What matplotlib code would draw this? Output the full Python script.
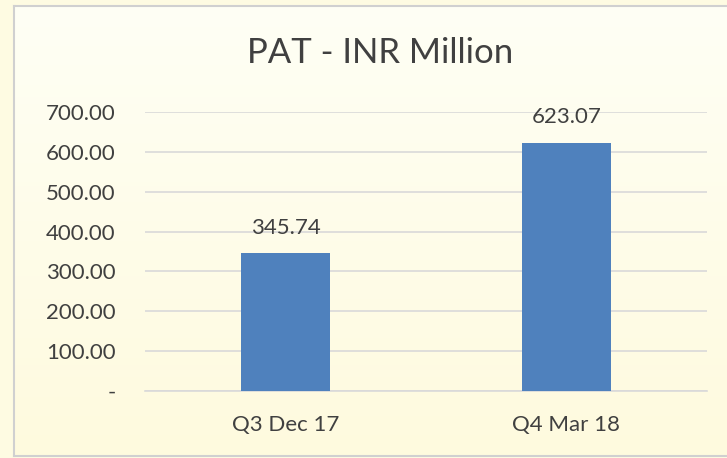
import matplotlib
matplotlib.use("Agg")
import matplotlib.pyplot as plt
import numpy as np

categories = ["Q3 Dec 17", "Q4 Mar 18"]
values = [345.74, 623.07]
yticks = [0, 100, 200, 300, 400, 500, 600, 700]
ytick_labels = ["-", "100.00", "200.00", "300.00", "400.00", "500.00", "600.00", "700.00"]
title = "PAT - INR Million"

W, H = 727, 458
fig = plt.figure(figsize=(W / 100, H / 100), dpi=100)
fig.patch.set_facecolor("#FEFBE2")
plt.rcParams['font.family'] = ['Lato', 'DejaVu Sans']

# background gradient box
bx0, by0 = 14 / W, 1 - 456 / H
bx1, by1 = 1.0, 1 - 6 / H
bg = fig.add_axes([bx0, by0, bx1 - bx0, by1 - by0])
grad = np.linspace(0, 1, 256).reshape(-1, 1)
c_top = np.array([255, 255, 245]) / 255
c_bot = np.array([254, 250, 222]) / 255
img = c_top + (c_bot - c_top) * grad[:, :, None]
img = np.repeat(img, 2, axis=1)
bg.imshow(img, aspect="auto", extent=[0, 1, 0, 1], origin="upper")
bg.set_xlim(0, 1)
bg.set_ylim(0, 1)
bg.set_xticks([])
bg.set_yticks([])
for s in ["top", "left", "bottom"]:
    bg.spines[s].set_color("#D0D0D0")
    bg.spines[s].set_linewidth(1.5)
bg.spines["right"].set_visible(False)

# plot axes
px0, px1 = 145 / W, 707 / W
py_top = 1 - 112 / H
py_bot = 1 - 391 / H
ax = fig.add_axes([px0, py_bot, px1 - px0, py_top - py_bot])
ax.patch.set_alpha(0)
x = np.arange(len(categories))
ax.bar(x, values, width=0.314, color="#4F81BD", zorder=3)
ax.set_xlim(-0.5, len(categories) - 0.5)
ax.set_ylim(0, 700)
ax.set_yticks(yticks)
ax.set_yticklabels(ytick_labels)
ax.set_xticks(x)
ax.set_xticklabels(categories)
ax.grid(axis="y", color="#D9D9D9", linewidth=1.2, zorder=0)
ax.tick_params(axis="both", length=0, labelsize=16, colors="#404040")
ax.tick_params(axis="y", pad=21)
ax.tick_params(axis="x", pad=17)
for s in ["top", "right", "left"]:
    ax.spines[s].set_visible(False)
ax.spines["bottom"].set_color("#D9D9D9")
ax.spines["bottom"].set_linewidth(1.2)
for lab in ax.get_yticklabels():
    lab.set_horizontalalignment("right")

for xi, v in zip(x, values):
    ax.annotate(f"{v:.2f}", (xi, v), xytext=(0, 11), textcoords="offset points",
                ha="center", va="bottom", fontsize=16, color="#404040")

fig.text(380 / W, 1 - 53 / H, title, ha="center", va="center", fontsize=25, color="#404040")

fig.savefig("out.png", dpi=100, facecolor=fig.get_facecolor())
